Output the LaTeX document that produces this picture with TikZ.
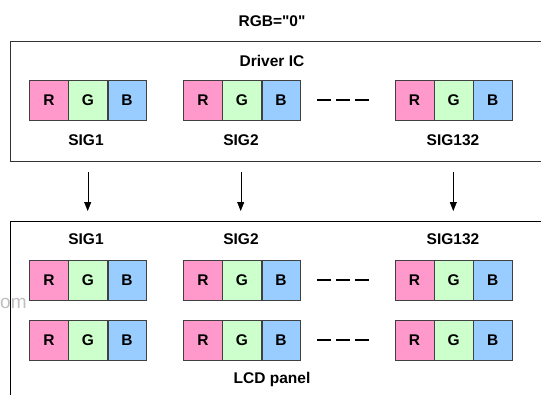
\documentclass[tikz,border=0pt]{standalone}
\usepackage{fontspec}
\setmainfont{Liberation Sans}[Ligatures=TeXOff]
\usepackage{tikz}
\usetikzlibrary{positioning,arrows.meta}
\definecolor{cellR}{HTML}{FF99CC}
\definecolor{cellG}{HTML}{CCFFCC}
\definecolor{cellB}{HTML}{99CCFF}

\begin{document}
\begin{tikzpicture}[
          x=1pt, y=-1pt,
          cell/.style={draw=black!75, minimum width=38.7pt, minimum height=40pt, inner sep=0pt, font=\bfseries\fontsize{15.5}{18}\selectfont},
          lbl/.style={font=\bfseries\fontsize{15.5}{18}\selectfont},
          arr/.style={-{Triangle[length=9pt,width=7pt]}, thin},
          gap/.style={line width=2.6pt, dash pattern=on 14pt off 5pt}
      ]
        \useasboundingbox (0,0) rectangle (541,394);
        \clip (0,0) rectangle (541,394);
        % watermark remnant
        \node[font=\rmfamily\fontsize{19}{22}\selectfont, text=black!25, anchor=west, inner sep=0pt] (wm) at (0,303) {om};
        % frames
        \node[lbl] (title) at (272,21) {RGB="0"};
        \draw[black!80] (10,40.7) rectangle (560,160.7);
        \draw (10,220.7) rectangle (560,420);
        \node[lbl] (ic) at (272,61) {Driver IC};
        \node[lbl] (lcd) at (272,379) {LCD panel};
        % RGB groups
        \foreach \g/\x in {a/29.3, b/183.3, c/395} {
          \foreach \row/\y in {ic/100, p/280, q/340} {
            \node[cell, fill=cellR, anchor=west] (\row\g r) at (\x,\y) {R};
            \node[cell, fill=cellG, right=0pt of \row\g r] (\row\g g) {G};
            \node[cell, fill=cellB, right=0pt of \row\g g] (\row\g b) {B};
          }
        }
        % signal names
        \node[lbl] (sa) at (86,140) {SIG1};
        \node[lbl] (sb) at (241,140) {SIG2};
        \node[lbl] (sc) at (453,140) {SIG132};
        \node[lbl] (ta) at (86,239) {SIG1};
        \node[lbl] (tb) at (241,239) {SIG2};
        \node[lbl] (tc) at (453,239) {SIG132};
        % gaps between groups
        \foreach \y in {100, 280, 340}
          \draw[gap] (317,\y) -- (370,\y);
        % arrows
        \foreach \n/\x in {a/87.7, b/240.7, c/453.3} {
          \coordinate (u\n) at (\x,172);
          \coordinate (v\n) at (\x,211);
          \draw[arr] (u\n) -- (v\n);
        }
      \end{tikzpicture}
\end{document}
